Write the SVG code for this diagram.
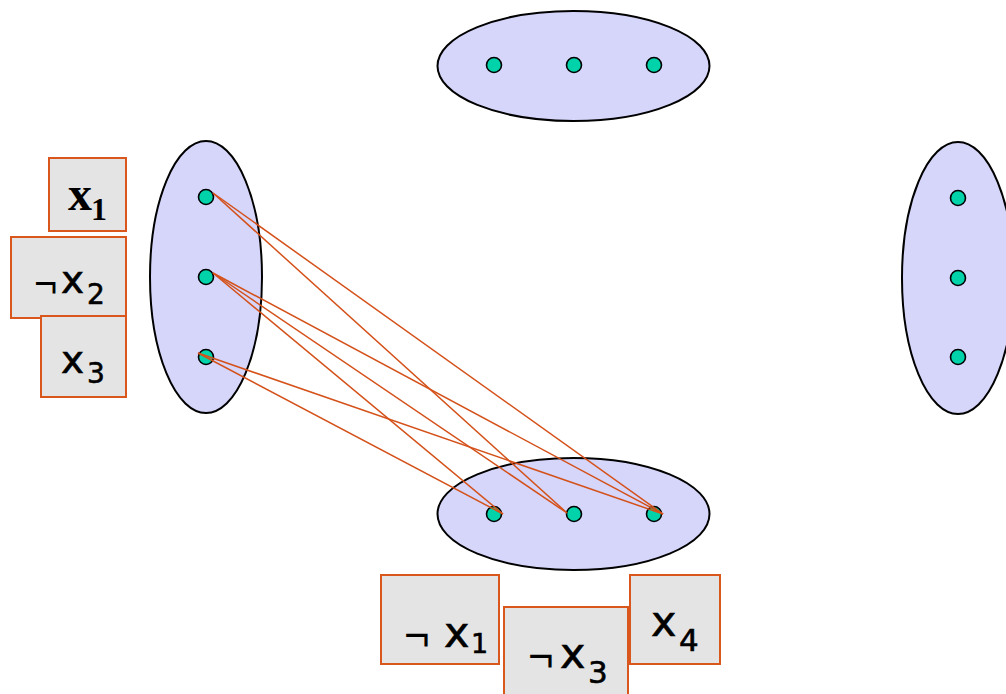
<svg xmlns="http://www.w3.org/2000/svg" width="1006" height="694" viewBox="0 0 1006 694">
<style>
.cl{fill:#d6d6fb;stroke:#000;stroke-width:2}
.dot{fill:#00d3a9;stroke:#000;stroke-width:1.6}
.box{fill:#e4e4e4;stroke:#d9561c;stroke-width:2}
.edge{stroke:#d4511a;stroke-width:1.5;fill:none}
.neg{font-family:"Liberation Sans",Arial,sans-serif;fill:#000}
.v{font-family:"DejaVu Sans",sans-serif;fill:#000;stroke:#000;stroke-width:0.6}
.b{font-family:"Liberation Serif","Times New Roman",serif;font-weight:bold;fill:#000}
</style>
<rect width="1006" height="694" fill="#fff"/>
<g id="clause-top">
<ellipse class="cl" cx="573.5" cy="66" rx="136" ry="55"/>
<circle class="dot" cx="494" cy="65" r="7.5"/>
<circle class="dot" cx="574" cy="65" r="7.5"/>
<circle class="dot" cx="654" cy="65" r="7.5"/>
</g>
<g id="clause-left">
<ellipse class="cl" cx="206" cy="277" rx="56" ry="136"/>
<circle class="dot" cx="206" cy="197" r="7.5"/>
<circle class="dot" cx="206" cy="277" r="7.5"/>
<circle class="dot" cx="206" cy="357" r="7.5"/>
</g>
<g id="clause-right">
<ellipse class="cl" cx="958" cy="278" rx="56" ry="136"/>
<circle class="dot" cx="958" cy="198" r="7.5"/>
<circle class="dot" cx="958" cy="278" r="7.5"/>
<circle class="dot" cx="958" cy="357" r="7.5"/>
</g>
<g id="clause-bottom">
<ellipse class="cl" cx="573.5" cy="514" rx="136" ry="56"/>
<circle class="dot" cx="494" cy="514" r="7.5"/>
<circle class="dot" cx="574" cy="514" r="7.5"/>
<circle class="dot" cx="654" cy="514" r="7.5"/>
</g>
<g id="connectors">
<line class="edge" x1="213" y1="193" x2="567" y2="513"/>
<line class="edge" x1="213" y1="193" x2="663" y2="514"/>
<line class="edge" x1="213" y1="273" x2="503" y2="514"/>
<line class="edge" x1="213" y1="273" x2="567" y2="513"/>
<line class="edge" x1="213" y1="273" x2="663" y2="514"/>
<line class="edge" x1="198" y1="353" x2="503" y2="514"/>
<line class="edge" x1="198" y1="353" x2="663" y2="514"/>
</g>
<g id="label-x1">
<rect class="box" x="49" y="158" width="77" height="73"/>
<text class="b" x="68" y="210" font-size="48">x</text>
<text class="b" x="91" y="220" font-size="32">1</text>
</g>
<g id="label-not-x2">
<rect class="box" x="11" y="237" width="115" height="81"/>
<text class="neg" x="34" y="297" font-size="40">¬</text>
<text class="v" x="61" y="293" font-size="39">x</text>
<text class="v" x="87" y="304" font-size="28">2</text>
</g>
<g id="label-x3">
<rect class="box" x="41" y="316" width="85" height="81"/>
<text class="v" x="61" y="373" font-size="39">x</text>
<text class="v" x="87" y="383" font-size="28">3</text>
</g>
<g id="label-not-x1">
<rect class="box" x="381" y="575" width="118" height="89"/>
<text class="neg" x="404" y="650" font-size="44">¬</text>
<text class="v" x="444" y="647" font-size="43">x</text>
<text class="v" x="471" y="653" font-size="27">1</text>
</g>
<g id="label-not-x3">
<rect class="box" x="504" y="607" width="124" height="100"/>
<text class="neg" x="528" y="671" font-size="44">¬</text>
<text class="v" x="560" y="668" font-size="43">x</text>
<text class="v" x="588" y="683" font-size="31">3</text>
</g>
<g id="label-x4">
<rect class="box" x="630" y="575" width="90" height="89"/>
<text class="v" x="651" y="636" font-size="43">x</text>
<text class="v" x="679" y="651" font-size="31">4</text>
</g>
</svg>
